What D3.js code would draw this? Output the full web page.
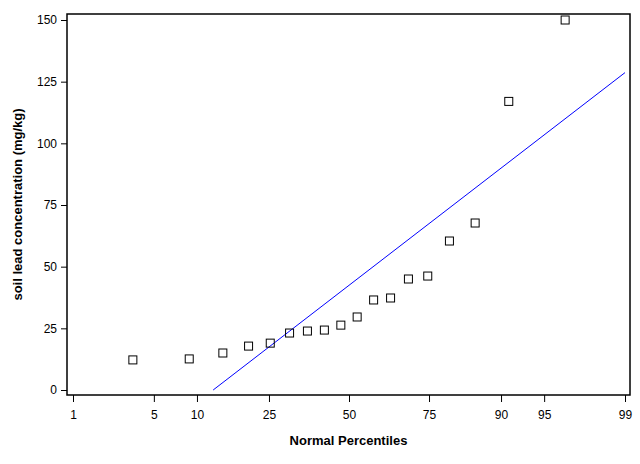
<!DOCTYPE html>
<html><head><meta charset="utf-8">
<script src="https://cdn.jsdelivr.net/npm/d3@7"></script>
<style>body{margin:0;background:#fff}text{font-family:Arial,"Liberation Sans",sans-serif}</style>
</head><body>
<svg id="chart" width="640" height="464"></svg>
<script>
// observed lead values, sorted
var leadValues = [12.2, 12.6, 15, 17.8, 19, 23.1, 23.9, 24.3, 26.3, 29.6, 36.5, 37.3, 45, 46.2, 60.4, 67.7, 117, 150];
var pctTicks = [1, 5, 10, 25, 50, 75, 90, 95, 99];
var yTicks = [0, 25, 50, 75, 100, 125, 150];

// inverse normal cdf (Acklam)
var probit = function (p) {
  var a = [-39.6968302866538, 220.946098424521, -275.928510446969, 138.357751867269, -30.6647980661472, 2.50662827745924],
      b = [-54.4760987982241, 161.585836858041, -155.698979859887, 66.8013118877197, -13.2806815528857],
      c = [-0.00778489400243029, -0.322396458041136, -2.40075827716184, -2.54973253934373, 4.37466414146497, 2.93816398269878],
      d = [0.00778469570904146, 0.32246712907004, 2.445134137143, 3.75440866190742];
  var q, r;
  if (p < 0.02425) {
    q = Math.sqrt(-2 * Math.log(p));
    return (((((c[0]*q+c[1])*q+c[2])*q+c[3])*q+c[4])*q+c[5]) / ((((d[0]*q+d[1])*q+d[2])*q+d[3])*q+1);
  }
  if (p > 1 - 0.02425) return -probit(1 - p);
  q = p - 0.5; r = q * q;
  return (((((a[0]*r+a[1])*r+a[2])*r+a[3])*r+a[4])*r+a[5])*q / (((((b[0]*r+b[1])*r+b[2])*r+b[3])*r+b[4])*r+1);
};

var n = leadValues.length;
var mu = d3.mean(leadValues), sigma = d3.deviation(leadValues);

var svg = d3.select('#chart');
var frameL = 67, frameR = 630, frameT = 14, frameB = 395;

var x = d3.scaleLinear().domain([probit(0.01), probit(0.99)]).range([73, 625]);
var y = d3.scaleLinear().domain([0, 150]).range([390, 20]);

// frame
svg.append('rect').attr('x', frameL).attr('y', frameT).attr('width', frameR - frameL).attr('height', frameB - frameT)
  .attr('fill', 'none').attr('stroke', '#000').attr('stroke-width', 1.5);

// y axis
svg.append('g').attr('transform', 'translate(' + frameL + ',0)')
  .call(d3.axisLeft(y).tickValues(yTicks).tickSize(6).tickPadding(4))
  .call(function (g) { g.select('.domain').remove(); g.selectAll('text').attr('font-size', 12).attr('fill', '#000'); });

// x axis
svg.append('g').attr('transform', 'translate(0,' + frameB + ')')
  .call(d3.axisBottom(x).tickValues(pctTicks.map(function (p) { return probit(p / 100); }))
    .tickFormat(function (d, i) { return pctTicks[i]; }).tickSize(7).tickPadding(8))
  .call(function (g) { g.select('.domain').remove(); g.selectAll('text').attr('font-size', 12).attr('fill', '#000'); });

// reference line
var zStart = -mu / sigma, zEnd = probit(0.99);
svg.append('line')
  .attr('x1', x(zStart)).attr('y1', y(0))
  .attr('x2', x(zEnd)).attr('y2', y(mu + sigma * zEnd))
  .attr('stroke', '#0000ff').attr('stroke-width', 1);

// points (Blom positions)
svg.append('g').selectAll('rect').data(leadValues).join('rect')
  .attr('x', function (d, i) { return x(probit((i + 1 - 0.375) / (n + 0.25))) - 4; })
  .attr('y', function (d) { return y(d) - 4; })
  .attr('width', 8).attr('height', 8)
  .attr('fill', 'none').attr('stroke', '#000').attr('stroke-width', 1);

// labels
svg.append('text').attr('x', (frameL + frameR) / 2).attr('y', 445).attr('text-anchor', 'middle')
  .attr('font-size', 13).attr('font-weight', 'bold').text('Normal Percentiles');
svg.append('text').attr('transform', 'translate(22,' + (frameT + frameB) / 2 + ') rotate(-90)')
  .attr('text-anchor', 'middle').attr('font-size', 13).attr('font-weight', 'bold')
  .text('soil lead concentration (mg/kg)');
</script>
</body></html>
